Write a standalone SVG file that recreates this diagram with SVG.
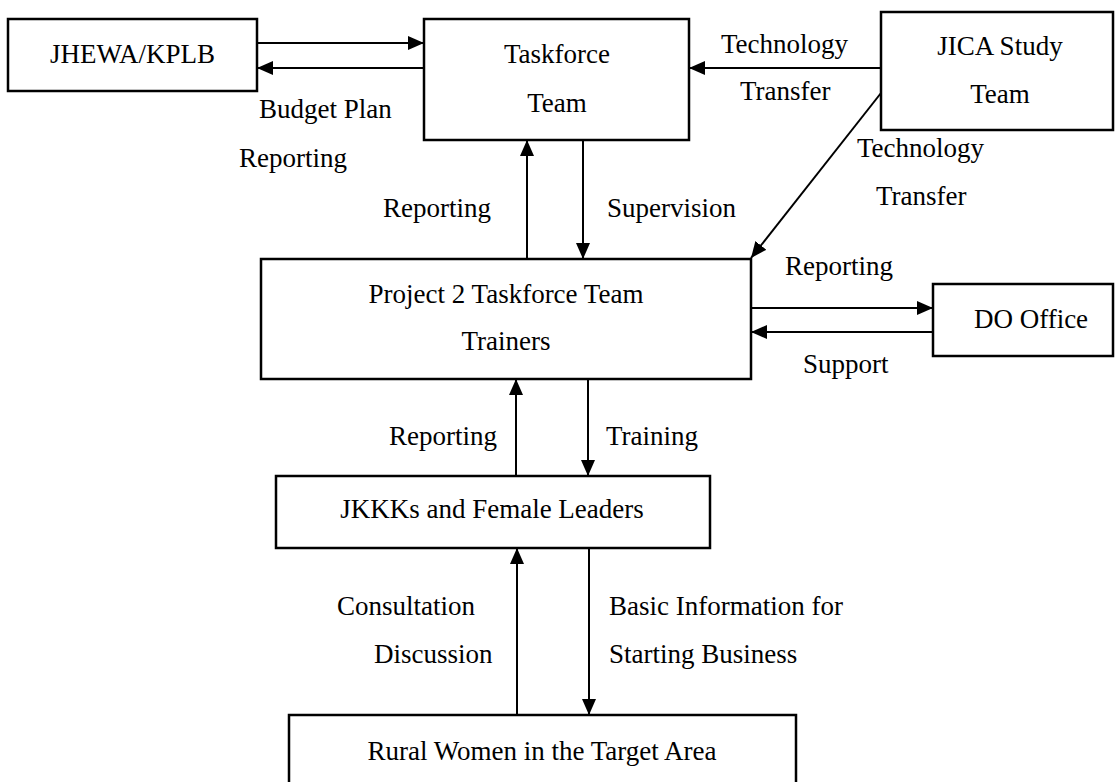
<svg xmlns="http://www.w3.org/2000/svg" width="1115" height="782" viewBox="0 0 1115 782">
<style>
.box{fill:#fff;stroke:#000;stroke-width:2.5}
.t{font-family:"Liberation Serif","Times New Roman",serif;font-size:27px;fill:#000}
.c{text-anchor:middle}
.e{text-anchor:end}
.ln{stroke:#000;stroke-width:2;fill:none;marker-end:url(#ah)}
</style>
<defs>
<marker id="ah" markerUnits="userSpaceOnUse" markerWidth="16" markerHeight="14" refX="16" refY="7" orient="auto">
<path d="M0,0 L16,7 L0,14 z" fill="#000"/>
</marker>
</defs>
<g id="connectors">
<line class="ln" x1="257" y1="43" x2="424" y2="43"/>
<line class="ln" x1="424" y1="68" x2="257" y2="68"/>
<line class="ln" x1="881" y1="68" x2="689" y2="68"/>
<line class="ln" x1="881" y1="93" x2="751" y2="258"/>
<line class="ln" x1="527" y1="259" x2="527" y2="140"/>
<line class="ln" x1="583" y1="140" x2="583" y2="259"/>
<line class="ln" x1="751" y1="308" x2="933" y2="308"/>
<line class="ln" x1="933" y1="332" x2="751" y2="332"/>
<line class="ln" x1="516" y1="476" x2="516" y2="379"/>
<line class="ln" x1="588" y1="379" x2="588" y2="476"/>
<line class="ln" x1="517" y1="715" x2="517" y2="548"/>
<line class="ln" x1="589" y1="548" x2="589" y2="715"/>
<text class="t" x="259" y="118">Budget Plan</text>
<text class="t" x="239" y="167">Reporting</text>
<text class="t" x="721" y="53">Technology</text>
<text class="t" x="740" y="100">Transfer</text>
<text class="t e" x="491" y="217">Reporting</text>
<text class="t" x="607" y="217">Supervision</text>
<text class="t" x="857" y="157">Technology</text>
<text class="t" x="876" y="205">Transfer</text>
<text class="t" x="785" y="275">Reporting</text>
<text class="t" x="803" y="373">Support</text>
<text class="t e" x="497" y="445">Reporting</text>
<text class="t" x="606" y="445">Training</text>
<text class="t" x="337" y="615">Consultation</text>
<text class="t" x="374" y="663">Discussion</text>
<text class="t" x="609" y="615">Basic Information for</text>
<text class="t" x="609" y="663">Starting Business</text>
</g>
<g id="jhewa">
<rect class="box" x="8" y="19" width="249" height="72"/>
<text class="t c" x="132.5" y="63">JHEWA/KPLB</text>
</g>
<g id="taskforce">
<rect class="box" x="424" y="19" width="265" height="121"/>
<text class="t c" x="557" y="63">Taskforce</text>
<text class="t c" x="557" y="112">Team</text>
</g>
<g id="jica">
<rect class="box" x="881" y="12" width="232" height="118"/>
<text class="t c" x="1000" y="55">JICA Study</text>
<text class="t c" x="1000" y="103">Team</text>
</g>
<g id="project">
<rect class="box" x="261" y="259" width="490" height="120"/>
<text class="t c" x="506" y="303">Project 2 Taskforce Team</text>
<text class="t c" x="506" y="350">Trainers</text>
</g>
<g id="do">
<rect class="box" x="933" y="284" width="180" height="72"/>
<text class="t c" x="1031" y="328">DO Office</text>
</g>
<g id="jkkk">
<rect class="box" x="276" y="476" width="434" height="72"/>
<text class="t c" x="492" y="518">JKKKs and Female Leaders</text>
</g>
<g id="rural">
<rect class="box" x="289" y="715" width="507" height="70"/>
<text class="t c" x="542" y="760">Rural Women in the Target Area</text>
</g>
</svg>
